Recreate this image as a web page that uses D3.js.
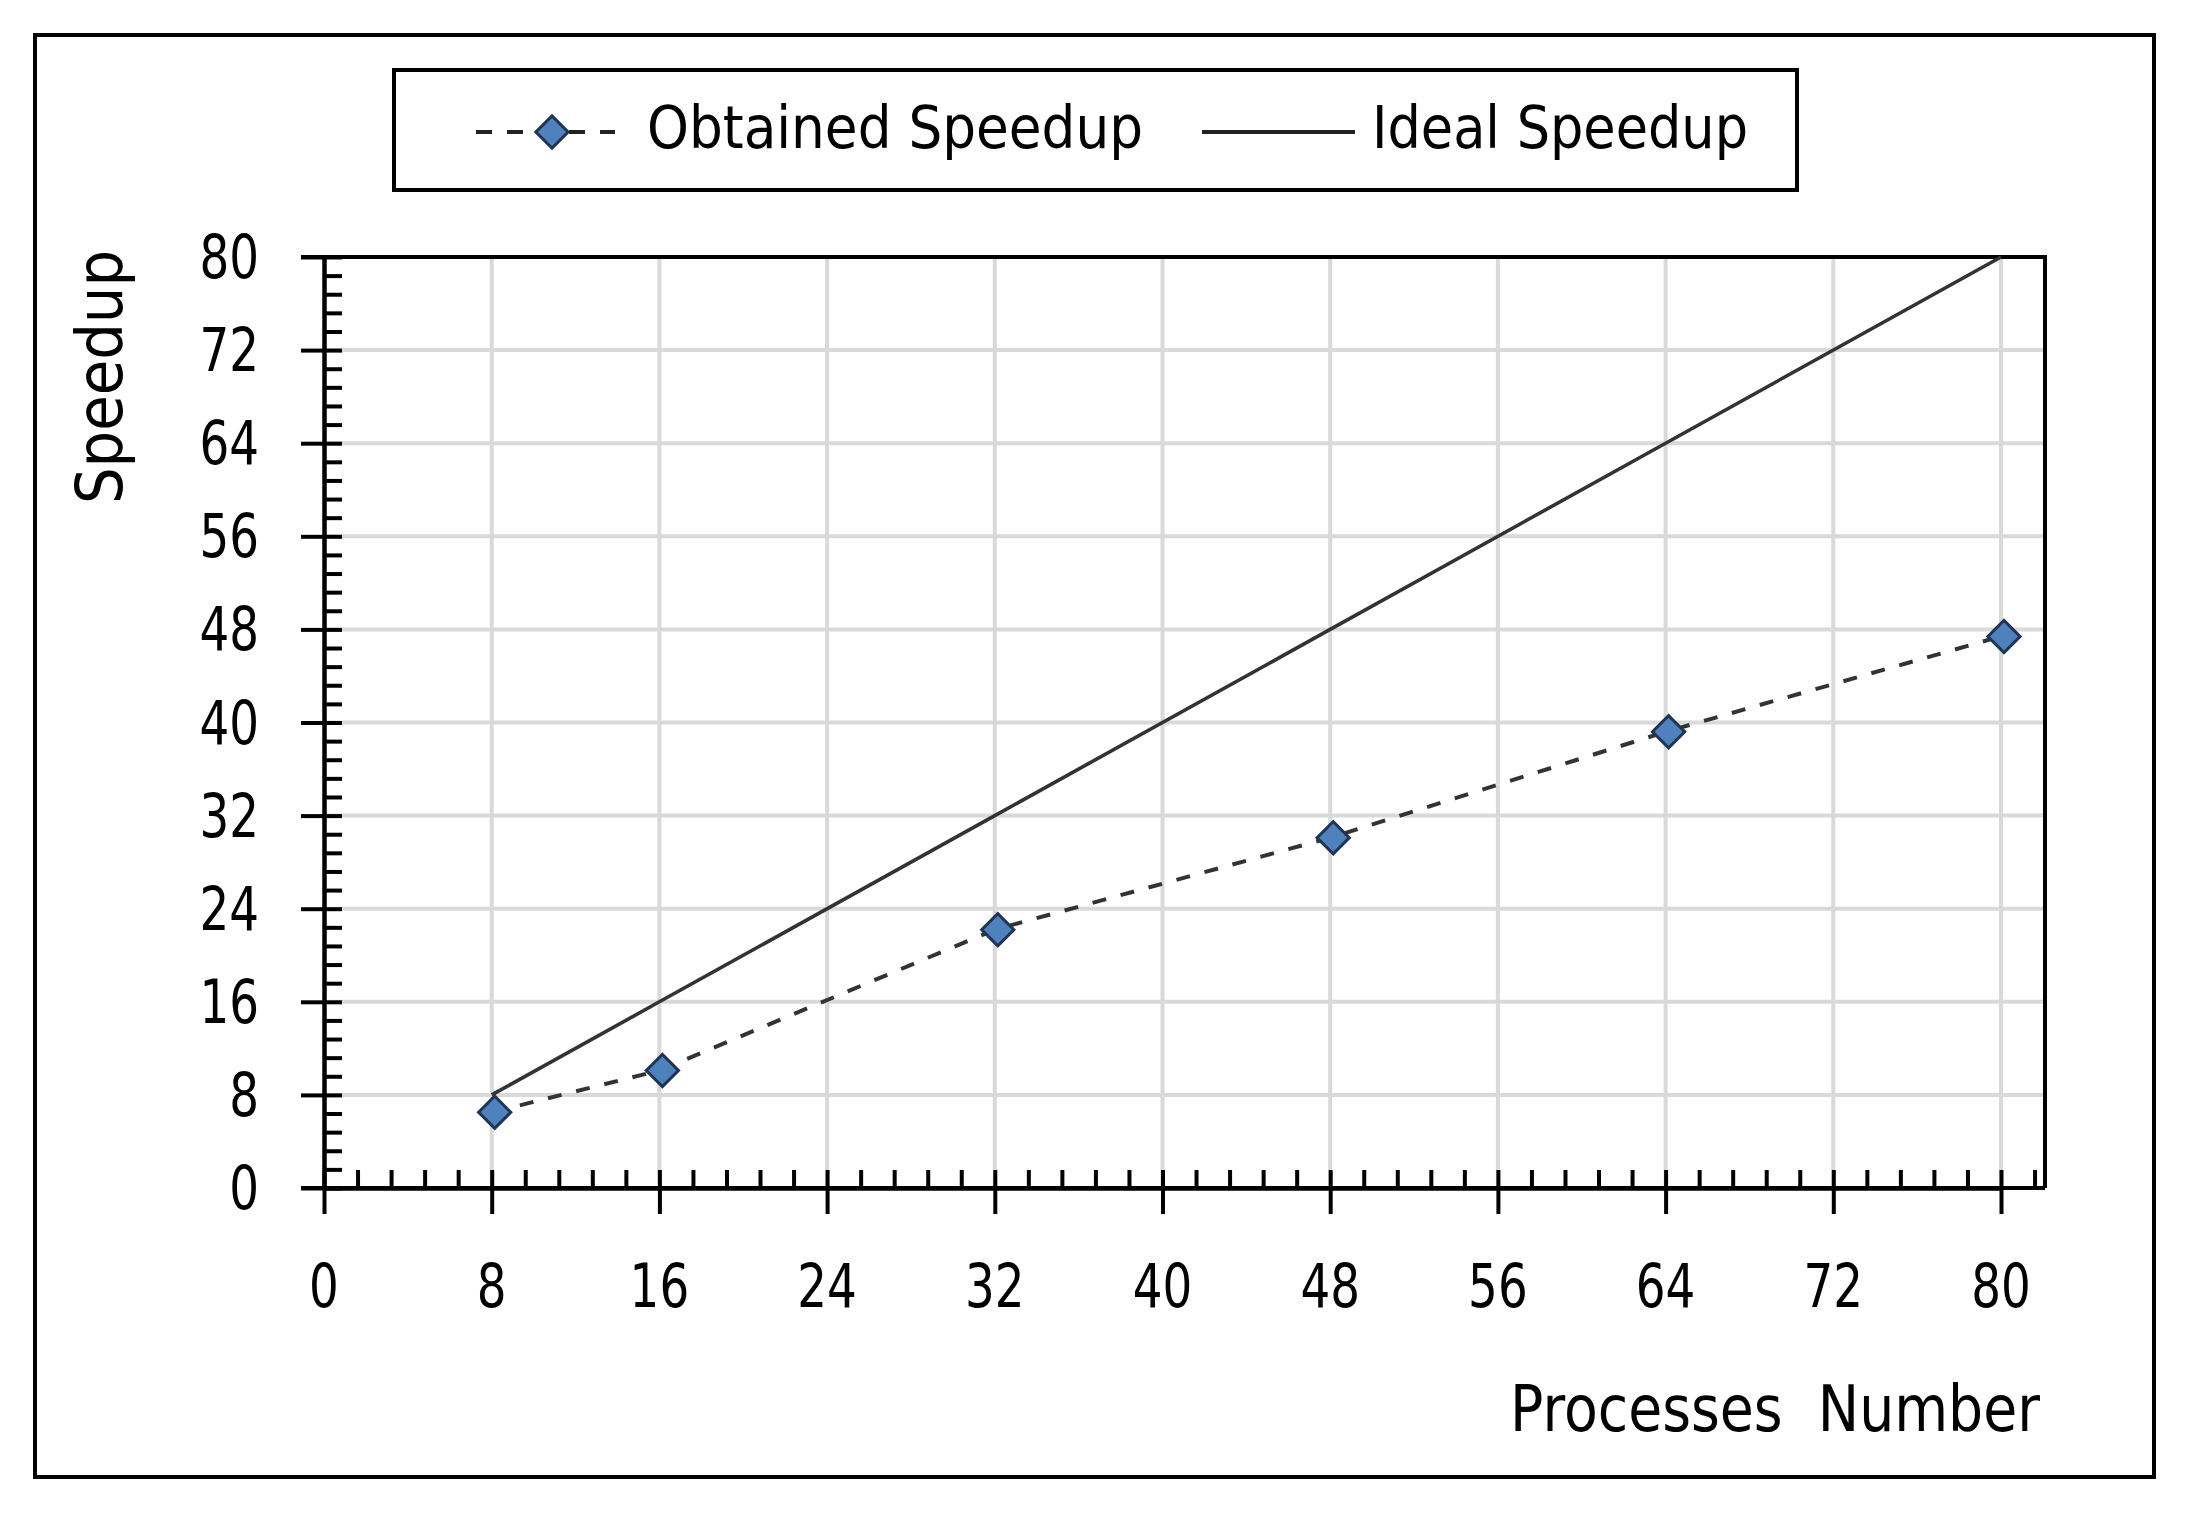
<!DOCTYPE html>
<html>
<head>
<meta charset="utf-8">
<script src="https://cdn.jsdelivr.net/npm/d3@7"></script>
<style>
  body { margin: 0; background: #fff; }
  text { font-family: "DejaVu Sans", Verdana, sans-serif; fill: #000; }
</style>
</head>
<body>
<svg id="chart"></svg>
<script>
// data
const processes = [8, 16, 32, 48, 64, 80];
const obtained = [6.5, 10.1, 22.2, 30.1, 39.2, 47.4];
const ideal = [8, 16, 32, 48, 64, 80];
const xTicks = [0, 8, 16, 24, 32, 40, 48, 56, 64, 72, 80];
const yTicks = [0, 8, 16, 24, 32, 40, 48, 56, 64, 72, 80];
const seriesNames = ["Obtained Speedup", "Ideal Speedup"];
const xTitle = "Processes  Number";
const yTitle = "Speedup";

const W = 2195, H = 1515;
const svg = d3.select("#chart").attr("width", W).attr("height", H);
svg.append("rect").attr("width", W).attr("height", H).attr("fill", "#fff");

// outer frame
svg.append("rect")
   .attr("x", 35).attr("y", 35)
   .attr("width", 2154 - 35).attr("height", 1477 - 35)
   .attr("fill", "none").attr("stroke", "#000").attr("stroke-width", 4);

const x = d3.scaleLinear().domain([0, 80]).range([324, 2001]);
const y = d3.scaleLinear().domain([0, 80]).range([1188, 257]);
const plotRight = 2045;

// minor ticks every 1.6
const minorX = d3.range(0, 82, 1.6).map(v => +v.toFixed(1)).filter(v => v % 8 !== 0);
const minorY = d3.range(0, 80, 1.6).map(v => +v.toFixed(1)).filter(v => v % 8 !== 0);

// gridlines
svg.append("g").selectAll("line")
   .data(xTicks.filter(v => v > 0)).enter()
   .append("line")
   .attr("x1", d => x(d)).attr("x2", d => x(d))
   .attr("y1", y(0)).attr("y2", y(80))
   .attr("stroke", "#d9d9d9").attr("stroke-width", 4);
svg.append("g").selectAll("line")
   .data(yTicks.filter(v => v > 0 && v < 80)).enter()
   .append("line")
   .attr("x1", x(0)).attr("x2", plotRight)
   .attr("y1", d => y(d)).attr("y2", d => y(d))
   .attr("stroke", "#d9d9d9").attr("stroke-width", 4);

// plot border top / right
svg.append("path")
   .attr("d", `M${x(0) - 23},${y(80)}H${plotRight}V${y(0)}`)
   .attr("fill", "none").attr("stroke", "#000").attr("stroke-width", 4);

function styleAxis(g) {
  g.select(".domain").attr("stroke", "#000").attr("stroke-width", 4);
  g.selectAll(".tick line").attr("stroke", "#000").attr("stroke-width", 4);
  g.selectAll(".tick text").remove();
}

// y axis: outward major, inward major + minor
svg.append("g").attr("transform", `translate(${x(0)},0)`)
   .call(d3.axisLeft(y).tickValues(yTicks).tickSize(23).tickSizeOuter(0))
   .call(styleAxis);
svg.append("g").attr("transform", `translate(${x(0)},0)`)
   .call(d3.axisLeft(y).tickValues(yTicks.concat(minorY)).tickSize(-18).tickSizeOuter(0))
   .call(styleAxis);

// x axis
svg.append("g").attr("transform", `translate(0,${y(0)})`)
   .call(d3.axisBottom(x).tickValues(xTicks).tickSize(26).tickSizeOuter(0))
   .call(styleAxis);
svg.append("g").attr("transform", `translate(0,${y(0)})`)
   .call(d3.axisBottom(x).tickValues(xTicks.concat(minorX)).tickSize(-18).tickSizeOuter(0))
   .call(styleAxis);
svg.append("line")
   .attr("x1", x(0) - 23).attr("x2", plotRight)
   .attr("y1", y(0)).attr("y2", y(0))
   .attr("stroke", "#000").attr("stroke-width", 4);

// tick labels (narrow digits)
svg.append("g").selectAll("text")
   .data(yTicks).enter()
   .append("text")
   .attr("transform", d => `translate(259,${y(d) + 21}) scale(0.78,1)`)
   .attr("text-anchor", "end")
   .attr("font-size", 60)
   .text(d => d);
svg.append("g").selectAll("text")
   .data(xTicks).enter()
   .append("text")
   .attr("transform", d => `translate(${x(d)},1307) scale(0.78,1)`)
   .attr("text-anchor", "middle")
   .attr("font-size", 60)
   .text(d => d);

// series
const lineGen = d3.line().x(d => x(d[0])).y(d => y(d[1]));
svg.append("path")
   .datum(d3.zip(processes, ideal))
   .attr("d", lineGen)
   .attr("fill", "none").attr("stroke", "#333").attr("stroke-width", 3.6);
svg.append("path")
   .datum(d3.zip(processes, obtained))
   .attr("d", lineGen)
   .attr("fill", "none").attr("stroke", "#333").attr("stroke-width", 4)
   .attr("stroke-dasharray", "14,15");

const diamond = d3.symbol().type(d3.symbolSquare).size(520);
svg.append("g").selectAll("path")
   .data(d3.zip(processes, obtained)).enter()
   .append("path")
   .attr("d", diamond)
   .attr("transform", d => `translate(${x(d[0]) + 3},${y(d[1])}) rotate(45)`)
   .attr("fill", "#4f81bd").attr("stroke", "#1f3553").attr("stroke-width", 3);

// axis titles
svg.append("text")
   .attr("x", 2040).attr("y", 1431)
   .attr("text-anchor", "end")
   .attr("font-size", 64)
   .attr("textLength", 530).attr("lengthAdjust", "spacingAndGlyphs")
   .style("white-space", "pre")
   .text(xTitle);
svg.append("text")
   .attr("transform", "translate(122,504) rotate(-90)")
   .attr("font-size", 64)
   .attr("textLength", 254).attr("lengthAdjust", "spacingAndGlyphs")
   .text(yTitle);

// legend
const legend = svg.append("g");
legend.append("rect")
   .attr("x", 394).attr("y", 70).attr("width", 1797 - 394).attr("height", 120)
   .attr("fill", "#fff").attr("stroke", "#000").attr("stroke-width", 4);
legend.append("line")
   .attr("x1", 476).attr("x2", 615).attr("y1", 132).attr("y2", 132)
   .attr("stroke", "#222").attr("stroke-width", 4).attr("stroke-dasharray", "16,15");
legend.append("path")
   .attr("d", diamond)
   .attr("transform", "translate(552,132) rotate(45)")
   .attr("fill", "#4f81bd").attr("stroke", "#1f3553").attr("stroke-width", 3);
legend.append("text")
   .attr("x", 647).attr("y", 148)
   .attr("font-size", 58)
   .attr("textLength", 496).attr("lengthAdjust", "spacingAndGlyphs")
   .text(seriesNames[0]);
legend.append("line")
   .attr("x1", 1202).attr("x2", 1355).attr("y1", 132).attr("y2", 132)
   .attr("stroke", "#222").attr("stroke-width", 4);
legend.append("text")
   .attr("x", 1372).attr("y", 148)
   .attr("font-size", 58)
   .attr("textLength", 376).attr("lengthAdjust", "spacingAndGlyphs")
   .text(seriesNames[1]);
</script>
</body>
</html>
